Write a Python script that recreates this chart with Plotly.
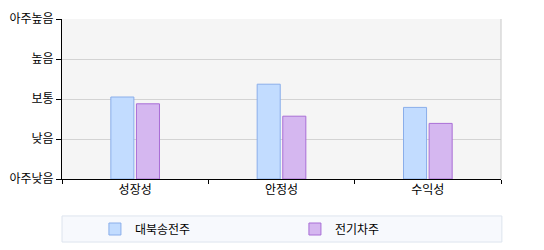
import plotly.graph_objects as go

categories = ["성장성", "안정성", "수익성"]
series_names = ["대북송전주", "전기차주"]
values_a = [2.05, 2.37, 1.79]
values_b = [1.88, 1.57, 1.39]
level_vals = [0, 1, 2, 3, 4]
level_text = ["아주낮음", "낮음", "보통", "높음", "아주높음"]

FONT = "Noto Sans CJK KR"

fig = go.Figure()
fig.add_trace(go.Bar(x=categories, y=values_a, name=series_names[0],
                     marker=dict(color="#c2dcff", line=dict(color="#8aaeea", width=1))))
fig.add_trace(go.Bar(x=categories, y=values_b, name=series_names[1],
                     marker=dict(color="#d5b7f0", line=dict(color="#a96ed6", width=1))))

fig.update_layout(
    width=544, height=250,
    margin=dict(l=62, r=43, t=19, b=71, autoexpand=False),
    paper_bgcolor="white", plot_bgcolor="#f5f5f5",
    barmode="group", bargap=0.65, bargroupgap=0.1,
    font=dict(family=FONT, size=12, color="black"),
    showlegend=True,
    legend=dict(orientation="h", x=0.075, xanchor="left", y=-0.3125, yanchor="middle",
                bgcolor="rgba(0,0,0,0)", borderwidth=0,
                entrywidth=155, entrywidthmode="pixels",
                font=dict(family=FONT, size=12)),
    shapes=[
        dict(type="rect", xref="paper", yref="paper", x0=0, x1=1.002, y0=-0.231, y1=-0.394,
             fillcolor="#f7f9fd", line=dict(color="#dde4ee", width=1), layer="below"),
        dict(type="line", xref="paper", yref="paper", x0=1, x1=1, y0=0, y1=1,
             line=dict(color="#c8c8c8", width=1)),
    ],
)
fig.update_xaxes(showline=True, linecolor="black", linewidth=1, ticks="outside",
                 tickson="boundaries", ticklen=4, tickcolor="black", showgrid=False,
                 tickfont=dict(size=12))
fig.update_yaxes(range=[0, 4], tickvals=level_vals, ticktext=level_text,
                 showline=True, linecolor="black", linewidth=1, ticks="outside",
                 ticklen=5, tickcolor="black", showgrid=True, gridcolor="#d3d3d3",
                 zeroline=False, tickfont=dict(size=12))

fig.write_html("out.html")
